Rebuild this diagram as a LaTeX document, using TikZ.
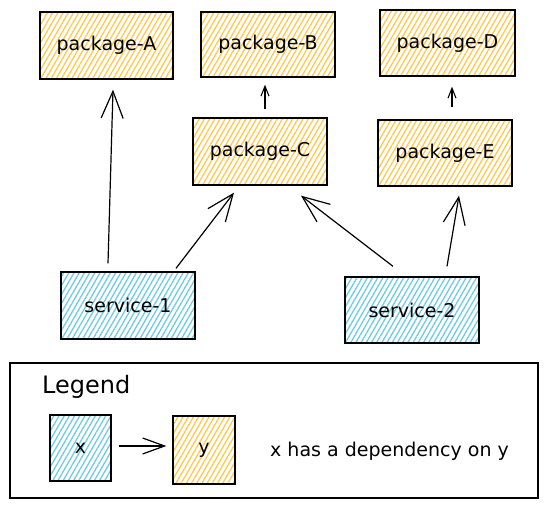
\documentclass[tikz,border=0pt]{standalone}
\usepackage{fontspec}
\setmainfont{DejaVu Sans}
\usetikzlibrary{arrows.meta,patterns.meta}
\definecolor{yel}{HTML}{FFC94D}
\definecolor{blu}{HTML}{6FCBE0}
\tikzset{
  box/.style={draw=black, line width=1.3pt, rectangle, inner sep=0pt,
    font=\fontsize{19}{22}\selectfont},
  pkg/.style={box, pattern={Lines[angle=60,distance=4.5pt,line width=1.3pt]}, pattern color=yel},
  svc/.style={box, pattern={Lines[angle=60,distance=4.5pt,line width=1.3pt]}, pattern color=blu},
  dep/.style={draw=black, line width=1.2pt, -{Straight Barb[length=27pt,width=22pt,line width=1.2pt]}},
  legarrow/.style={draw=black, line width=1.2pt, -{Straight Barb[length=22pt,width=16pt,line width=1.2pt]}},
  small/.style={draw=black, line width=1.1pt, -{Straight Barb[length=10pt,width=8pt,line width=1.1pt]}},
}
\begin{document}
\begin{tikzpicture}[x=1pt,y=-1pt]
\useasboundingbox (0,0) rectangle (547,509);
\node[pkg, minimum width=133pt, minimum height=67pt] (A) at (106.5,45.5) {package-A};
\node[pkg, minimum width=134pt, minimum height=65pt] (B) at (268,44.5) {package-B};
\node[pkg, minimum width=135pt, minimum height=66pt] (D) at (447.5,43) {package-D};
\node[pkg, minimum width=134pt, minimum height=67pt] (C) at (260,151.5) {package-C};
\node[pkg, minimum width=134pt, minimum height=66pt] (E) at (445,153) {package-E};
\node[svc, minimum width=134pt, minimum height=67pt] (S1) at (128,305.5) {service-1};
\node[svc, minimum width=134pt, minimum height=66pt] (S2) at (412,310) {service-2};

\draw[dep] ([xshift=-20pt,yshift=8pt]S1.north) -- ([xshift=6.5pt,yshift=-10pt]A.south);
\draw[dep] ([xshift=48pt,yshift=3pt]S1.north) -- ([xshift=-26pt,yshift=-7pt]C.south);
\draw[dep] ([xshift=-19pt,yshift=10pt]S2.north) -- ([xshift=41pt,yshift=-10pt]C.south);
\draw[dep] ([xshift=35pt,yshift=10pt]S2.north) -- ([xshift=14pt,yshift=-9pt]E.south);
\draw[small] ([xshift=5pt,yshift=8pt]C.north) -- ([xshift=-3pt,yshift=-7pt]B.south);
\draw[small] ([xshift=7pt,yshift=12pt]E.north) -- ([xshift=4.5pt,yshift=-10pt]D.south);

\node[draw=black, line width=1.2pt, rectangle, minimum width=528pt, minimum height=135pt, inner sep=0pt] (L) at (274,430.5) {};
\node[anchor=west, inner sep=0pt, font=\fontsize{24}{28}\selectfont] (LT) at (42,387) {Legend};
\node[svc, minimum width=61pt, minimum height=66pt] (X) at (80.5,448) {x};
\node[pkg, minimum width=62pt, minimum height=68pt] (Y) at (204,450) {y};
\draw[legarrow] ([xshift=7pt,yshift=2pt]X.east) -- ([xshift=-6pt,yshift=4pt]Y.west);
\node[anchor=west, inner sep=0pt, font=\fontsize{19}{22}\selectfont] (T) at (270,451) {x has a dependency on y};
\end{tikzpicture}
\end{document}
